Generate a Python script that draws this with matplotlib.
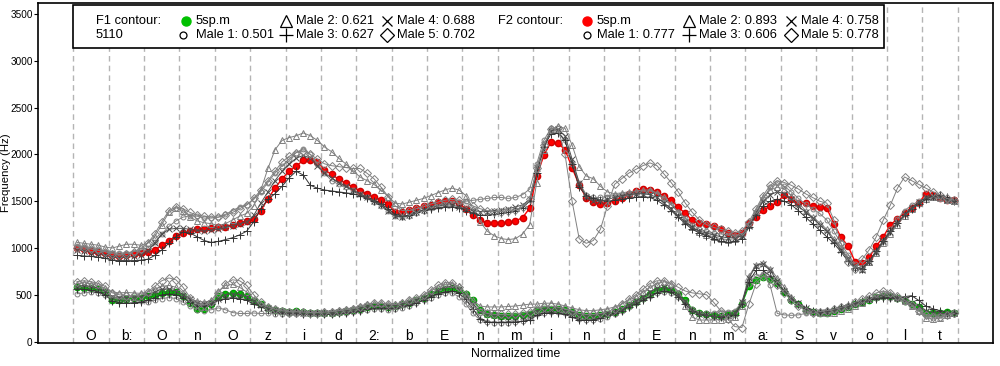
import numpy as np
import matplotlib.pyplot as plt
from matplotlib.patches import Rectangle
from matplotlib.lines import Line2D

plt.rcParams['font.family'] = ['Liberation Sans', 'DejaVu Sans']

# segment labels (one per normalized time unit)
segments = ['O', 'b:', 'O', 'n', 'O', 'z', 'i', 'd', '2:', 'b', 'E', 'n', 'm',
            'i', 'n', 'd', 'E', 'n', 'm', 'a:', 'S', 'v', 'o', 'l', 't']
pts_per_seg = [0.1, 0.3, 0.5, 0.7, 0.9]

male_names = ['Male 1', 'Male 2', 'Male 3', 'Male 4', 'Male 5']
f1_corr = [0.501, 0.621, 0.627, 0.688, 0.702]
f2_corr = [0.777, 0.893, 0.606, 0.758, 0.778]

# F2 contour, 5sp.m (5 points per segment)
f2_ref = [1000, 985, 965, 955, 945, 920, 918, 928, 937, 945, 954, 975, 1030, 1080, 1125,
          1157, 1180, 1204, 1204, 1211, 1221, 1228, 1250, 1267, 1290,
          1311, 1400, 1525, 1640, 1739, 1821, 1878, 1936, 1939, 1918, 1836, 1786, 1736, 1690, 1655,
          1611, 1578, 1543, 1518, 1468, 1382, 1382, 1411, 1425, 1446,
          1461, 1496, 1503, 1503, 1478, 1418, 1357, 1296, 1271, 1264, 1264, 1275, 1289, 1325, 1425,
          1768, 1989, 2132, 2118, 2053, 1857, 1675, 1536, 1489, 1468,
          1478, 1507, 1539, 1582, 1607, 1632, 1625, 1600, 1553, 1514, 1436, 1371, 1296, 1264, 1254,
          1232, 1207, 1161, 1139, 1161, 1264, 1329, 1407, 1446, 1489,
          1568, 1525, 1478, 1478, 1446, 1436, 1425, 1261, 1118, 1021, 854, 836, 900, 1021, 1121,
          1250, 1311, 1375, 1432, 1482, 1578, 1564, 1536, 1518, 1514]

# F1 contour, 5sp.m
f1_ref = [580, 574, 574, 560, 530, 447, 447, 454, 466, 468, 487, 500, 520, 533, 530,
          482, 408, 345, 350, 405, 482, 510, 521, 503, 489,
          430, 398, 363, 342, 327, 320, 324, 317, 310, 310, 310, 310, 320, 327, 334,
          349, 370, 377, 377, 370, 377, 398, 412, 440, 468,
          510, 539, 560, 574, 553, 510, 447, 342, 299, 282, 271, 271, 271, 282, 299,
          334, 349, 352, 349, 334, 317, 282, 271, 271, 282,
          299, 317, 352, 387, 422, 468, 510, 553, 560, 553, 510, 447, 342, 306, 292,
          282, 271, 292, 310, 400, 599, 662, 687, 669, 630,
          525, 447, 398, 342, 317, 306, 306, 324, 349, 370, 405, 419, 447, 475, 489,
          482, 468, 433, 398, 370, 306, 306, 310, 313, 310]

# F2 of the five male speakers
f2_male1 = [1020, 1010, 990, 975, 960, 950, 945, 950, 960, 975, 1000, 1060, 1150, 1230, 1290,
            1330, 1345, 1340, 1320, 1320, 1330, 1360, 1400, 1440, 1460,
            1520, 1600, 1700, 1800, 1880, 1950, 2020, 2060, 2000, 1900, 1800, 1720, 1680, 1650, 1620,
            1580, 1540, 1490, 1450, 1400, 1340, 1330, 1340, 1370, 1400,
            1430, 1450, 1470, 1480, 1490, 1500, 1510, 1520, 1530, 1540, 1540, 1530, 1540, 1570, 1630,
            1900, 2150, 2280, 2250, 2150, 1900, 1700, 1570, 1540, 1540,
            1550, 1560, 1570, 1580, 1590, 1600, 1610, 1580, 1520, 1460, 1390, 1320, 1250, 1200, 1180,
            1160, 1150, 1140, 1130, 1140, 1250, 1380, 1520, 1650, 1700,
            1660, 1600, 1530, 1470, 1420, 1370, 1300, 1180, 1050, 930, 830, 800, 860, 960, 1080,
            1200, 1310, 1400, 1460, 1500, 1530, 1540, 1530, 1510, 1500]
f2_male2 = [1060, 1050, 1040, 1030, 1010, 1000, 1020, 1040, 1040, 1030, 1050, 1120, 1250, 1380, 1430,
            1400, 1330, 1290, 1270, 1260, 1240, 1260, 1300, 1340, 1370,
            1450, 1620, 1850, 2050, 2150, 2180, 2200, 2230, 2200, 2150, 2080, 2030, 1960, 1900, 1830,
            1760, 1720, 1680, 1620, 1550, 1480, 1470, 1490, 1510, 1530,
            1560, 1590, 1620, 1640, 1620, 1560, 1420, 1280, 1180, 1130, 1100, 1090, 1100, 1150, 1250,
            1700, 2050, 2270, 2300, 2280, 2100, 1870, 1770, 1740, 1660,
            1600, 1580, 1590, 1600, 1610, 1620, 1620, 1590, 1540, 1470, 1380, 1300, 1220, 1170, 1140,
            1120, 1100, 1090, 1100, 1130, 1250, 1400, 1540, 1620, 1650,
            1630, 1560, 1480, 1400, 1330, 1270, 1200, 1100, 990, 900, 800, 780, 850, 950, 1050,
            1150, 1250, 1340, 1420, 1480, 1520, 1540, 1530, 1510, 1500]
f2_male3 = [920, 915, 910, 900, 890, 870, 865, 865, 865, 870, 880, 920, 980, 1050, 1120,
            1170, 1160, 1120, 1080, 1060, 1070, 1090, 1110, 1140, 1180,
            1280, 1420, 1520, 1580, 1660, 1750, 1820, 1780, 1670, 1640, 1620, 1610, 1600, 1590, 1580,
            1560, 1530, 1500, 1470, 1420, 1360, 1340, 1350, 1380, 1410,
            1420, 1430, 1440, 1440, 1430, 1400, 1370, 1350, 1350, 1360, 1370, 1380, 1400, 1430, 1500,
            1800, 2080, 2220, 2230, 2150, 1900, 1650, 1560, 1530, 1510,
            1500, 1510, 1520, 1530, 1540, 1550, 1540, 1510, 1460, 1400, 1330, 1260, 1200, 1160, 1130,
            1100, 1070, 1060, 1070, 1100, 1220, 1350, 1450, 1500, 1520,
            1500, 1460, 1400, 1330, 1260, 1190, 1120, 1050, 960, 860, 790, 780, 860, 970, 1080,
            1180, 1270, 1350, 1420, 1470, 1520, 1560, 1570, 1540, 1500]
f2_male4 = [980, 970, 950, 935, 920, 900, 895, 900, 910, 930, 970, 1050, 1150, 1200, 1210,
            1210, 1200, 1190, 1180, 1190, 1200, 1220, 1240, 1260, 1280,
            1350, 1480, 1600, 1720, 1820, 1900, 1960, 1990, 1960, 1880, 1800, 1750, 1700, 1660, 1620,
            1580, 1540, 1500, 1460, 1400, 1340, 1330, 1350, 1380, 1410,
            1440, 1450, 1460, 1460, 1440, 1420, 1400, 1390, 1390, 1400, 1410, 1420, 1440, 1460, 1520,
            1850, 2100, 2250, 2270, 2200, 1950, 1700, 1540, 1500, 1500,
            1520, 1540, 1560, 1570, 1580, 1580, 1570, 1540, 1480, 1420, 1340, 1280, 1220, 1180, 1160,
            1140, 1120, 1110, 1110, 1130, 1230, 1370, 1500, 1570, 1600,
            1580, 1520, 1450, 1380, 1320, 1250, 1180, 1080, 980, 880, 800, 770, 850, 960, 1070,
            1170, 1270, 1360, 1430, 1490, 1540, 1550, 1540, 1510, 1500]
f2_male5 = [1000, 1000, 990, 980, 960, 940, 930, 940, 960, 990, 1050, 1150, 1280, 1400, 1440,
            1420, 1380, 1350, 1340, 1330, 1330, 1350, 1380, 1420, 1460,
            1530, 1620, 1720, 1820, 1920, 1980, 2020, 2040, 2000, 1950, 1900, 1880, 1870, 1860, 1850,
            1850, 1800, 1740, 1650, 1550, 1450, 1400, 1400, 1420, 1440,
            1470, 1490, 1510, 1520, 1510, 1480, 1450, 1420, 1400, 1390, 1390, 1400, 1410, 1440, 1520,
            1850, 2100, 2270, 2280, 2000, 1500, 1100, 1050, 1080, 1200,
            1450, 1680, 1740, 1800, 1840, 1880, 1910, 1880, 1790, 1700, 1600, 1480, 1380, 1300, 1250,
            1220, 1200, 1180, 1160, 1180, 1280, 1420, 1560, 1670, 1720,
            1700, 1670, 1630, 1580, 1540, 1500, 1480, 1300, 1050, 850, 780, 880, 980, 1120, 1300,
            1460, 1640, 1760, 1720, 1680, 1640, 1600, 1570, 1530, 1510]

# F1 of the five male speakers
f1_male1 = [510, 520, 530, 520, 500, 470, 460, 450, 440, 430, 420, 440, 460, 470, 460,
            420, 380, 340, 330, 340, 360, 340, 310, 300, 300,
            305, 300, 300, 295, 295, 290, 290, 290, 290, 290, 290, 295, 300, 310, 320,
            330, 340, 345, 345, 340, 345, 360, 380, 410, 440,
            470, 500, 520, 520, 480, 400, 300, 230, 210, 200, 200, 200, 205, 220, 250,
            290, 310, 320, 320, 310, 280, 240, 230, 230, 240,
            260, 290, 330, 370, 410, 450, 490, 520, 530, 520, 480, 420, 350, 310, 300,
            310, 320, 320, 330, 420, 620, 700, 720, 600, 300,
            285, 280, 285, 300, 310, 320, 330, 340, 360, 380, 400, 420, 450, 470, 480,
            470, 450, 420, 380, 330, 290, 280, 285, 290, 290]
f1_male2 = [620, 630, 620, 600, 570, 530, 520, 525, 520, 515, 530, 560, 590, 600, 580,
            520, 460, 430, 420, 440, 540, 600, 610, 580, 530,
            460, 400, 370, 350, 340, 330, 330, 325, 320, 320, 325, 330, 340, 350, 360,
            380, 400, 410, 410, 400, 400, 420, 440, 460, 490,
            540, 580, 610, 620, 590, 520, 440, 380, 370, 370, 370, 375, 380, 390, 400,
            400, 410, 410, 400, 380, 360, 340, 330, 330, 340,
            350, 370, 400, 440, 480, 530, 580, 620, 640, 610, 520, 380, 260, 230, 230,
            230, 235, 240, 260, 380, 700, 820, 840, 780, 680,
            580, 480, 400, 350, 320, 300, 300, 310, 330, 350, 380, 410, 450, 490, 520,
            510, 480, 430, 380, 330, 250, 240, 250, 280, 300]
f1_male3 = [560, 560, 550, 530, 500, 430, 415, 410, 415, 420, 440, 470, 500, 510, 500,
            470, 420, 380, 380, 400, 440, 460, 470, 460, 440,
            400, 370, 340, 320, 310, 300, 300, 295, 290, 290, 290, 295, 300, 310, 320,
            330, 345, 355, 360, 355, 360, 375, 390, 410, 440,
            480, 510, 530, 540, 520, 450, 350, 240, 210, 205, 205, 210, 210, 215, 230,
            280, 300, 310, 300, 290, 260, 230, 225, 230, 250,
            280, 300, 330, 370, 400, 440, 480, 520, 540, 530, 480, 400, 330, 290, 280,
            270, 265, 270, 285, 400, 640, 760, 760, 700, 620,
            540, 460, 400, 360, 330, 320, 330, 350, 370, 390, 410, 430, 450, 460, 470,
            470, 470, 480, 490, 440, 380, 350, 330, 310, 300]
f1_male4 = [590, 600, 590, 570, 540, 480, 470, 470, 475, 480, 500, 530, 560, 560, 540,
            500, 450, 410, 400, 410, 460, 500, 510, 500, 480,
            430, 390, 360, 340, 325, 315, 315, 310, 305, 305, 305, 310, 320, 330, 340,
            355, 375, 385, 385, 380, 385, 400, 420, 440, 470,
            510, 550, 580, 590, 560, 490, 400, 320, 290, 280, 270, 265, 265, 275, 295,
            330, 345, 350, 345, 330, 310, 280, 270, 270, 285,
            300, 320, 350, 390, 430, 480, 530, 570, 580, 560, 500, 430, 330, 290, 280,
            270, 265, 280, 300, 420, 680, 810, 830, 760, 650,
            540, 460, 410, 360, 330, 315, 315, 330, 350, 370, 400, 420, 450, 480, 500,
            490, 470, 440, 410, 380, 330, 310, 300, 300, 300]
f1_male5 = [640, 650, 640, 620, 590, 520, 500, 490, 490, 495, 530, 590, 650, 680, 660,
            580, 470, 400, 390, 420, 520, 620, 660, 650, 600,
            500, 420, 370, 345, 330, 320, 320, 315, 310, 310, 315, 320, 330, 340, 350,
            370, 395, 410, 410, 400, 395, 415, 440, 470, 500,
            550, 600, 630, 630, 580, 470, 380, 320, 300, 290, 290, 290, 295, 305, 320,
            350, 370, 375, 370, 350, 330, 300, 290, 290, 300,
            320, 350, 400, 450, 500, 560, 620, 650, 650, 620, 580, 540, 520, 510, 500,
            420, 330, 240, 160, 150, 400, 620, 700, 680, 600,
            520, 440, 380, 330, 300, 320, 330, 345, 365, 385, 420, 450, 490, 520, 540,
            520, 490, 440, 390, 330, 280, 260, 265, 280, 300]

f1_males = [f1_male1, f1_male2, f1_male3, f1_male4, f1_male5]
f2_males = [f2_male1, f2_male2, f2_male3, f2_male4, f2_male5]

# normalized time of each point
t = (np.arange(len(segments))[:, None] + np.array(pts_per_seg)[None, :]).ravel()

male_markers = ['o', '^', '+', 'x', 'D']
male_sizes = [3.5, 4.5, 5.5, 4, 3.8]
male_colors = ['0.5', '0.5', '0.2', '0.3', '0.5']

fig = plt.figure(figsize=(10, 3.66), dpi=100)
ax = fig.add_axes([0.038, 0.063, 0.955, 0.929])

for i in range(len(segments) + 1):
    ax.axvline(i, color='#b4b4b4', lw=1, ls=(0, (4, 3)), zorder=1)
for i, s in enumerate(segments):
    ax.text(i + 0.5, 60, s, ha='center', va='center', fontsize=10)

ax.plot(t, f2_ref, color='red', lw=1, marker='o', ms=4.5, mfc='red', mec='#d00000', zorder=2)
ax.plot(t, f1_ref, color='#00c000', lw=1, marker='o', ms=4.5, mfc='#00c000', mec='#00a000', zorder=2)

for k in range(5):
    for vals in (f1_males[k], f2_males[k]):
        ax.plot(t, vals, color=male_colors[k], lw=0.7, marker=male_markers[k],
                ms=male_sizes[k], mfc='none', mec=male_colors[k], mew=0.7, zorder=3)

ax.set_xlim(-1, 26)
ax.set_ylim(-15, 3620)
ax.set_yticks(np.arange(0, 3501, 500))
ax.set_xticks([])
ax.tick_params(axis='y', labelsize=7.2, length=3, pad=0.8)
for sp in ax.spines.values():
    sp.set_linewidth(1.2)
fig.text(0.0063, 0.527, 'Frequency (Hz)', rotation=90, ha='center', va='center', fontsize=8.2)
ax.set_xlabel('Normalized time', fontsize=8.8, labelpad=4)


# legend drawn in pixel positions of the figure
def px(x, y):
    return x / 1000, 1 - y / 366


box = Rectangle(px(73, 48), 811 / 1000, 43 / 366, transform=fig.transFigure,
                facecolor='white', edgecolor='black', lw=1.2, zorder=10)
ax.add_patch(box)
box.set_clip_on(False)


def leg_marker(x, y, **kw):
    ln = Line2D([px(x, y)[0]], [px(x, y)[1]], transform=fig.transFigure, zorder=11, ls='none', **kw)
    ax.add_artist(ln)
    ln.set_clip_on(False)


def leg_text(x, y, s):
    ax.text(*px(x, y), s, transform=fig.transFigure, fontsize=9.3, va='center', ha='left', zorder=11)


groups = [(96, 'F1 contour:', '#00c000', f1_corr, 186, 183, 286, 387),
          (498, 'F2 contour:', 'red', f2_corr, 587, 587, 689, 791)]
for gx, title, col, corr, dx, cx, tx, xx in groups:
    leg_text(gx, 21, title)
    if title.startswith('F1'):
        leg_text(gx, 35, '5110')
    leg_marker(dx, 21, marker='o', ms=6.5, mfc=col, mec=col)
    leg_text(dx + 10, 21, '5sp.m')
    spots = [(cx, 35), (tx, 21), (tx, 35), (xx, 21), (xx, 35)]
    lsizes = [5, 8.5, 10, 7.5, 7.5]
    for k in range(5):
        mx, my = spots[k]
        leg_marker(mx, my, marker=male_markers[k], ms=lsizes[k], mfc='none', mec='black', mew=0.9)
        leg_text(mx + 10 if k else dx + 10, my, f'{male_names[k]}: {corr[k]:.3f}')

fig.savefig('out.png', dpi=100)
